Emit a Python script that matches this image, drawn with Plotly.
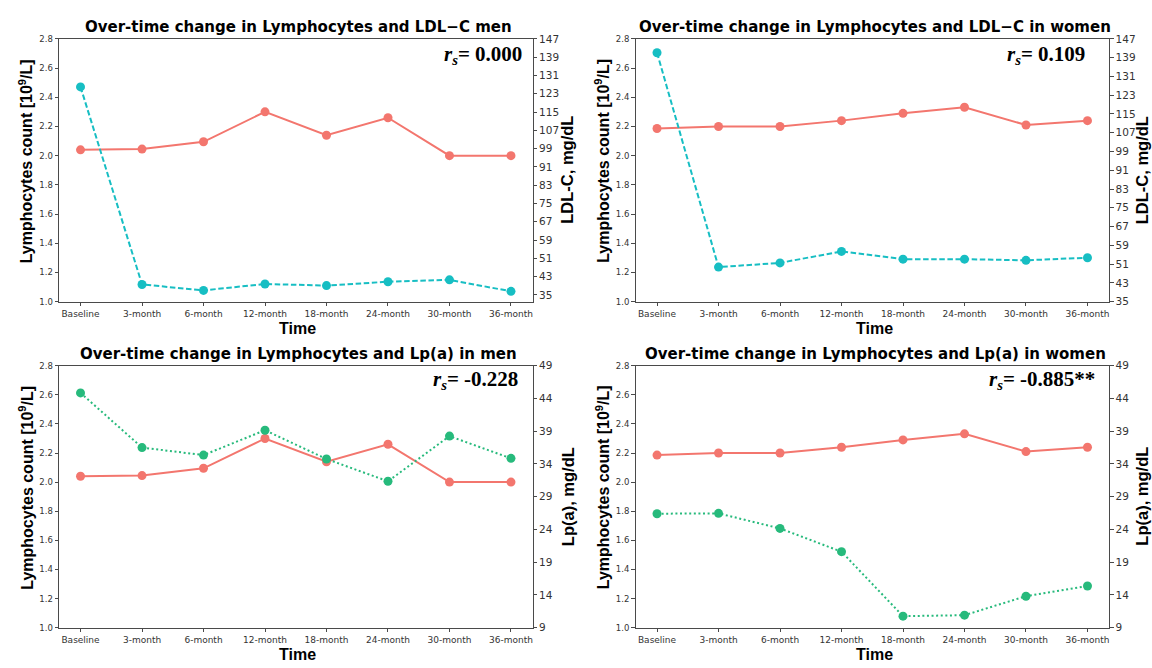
import plotly.graph_objects as go

# ---------------- data ----------------
cats = ["Baseline", "3-month", "6-month", "12-month", "18-month", "24-month", "30-month", "36-month"]

lymph_men = [2.04, 2.045, 2.095, 2.30, 2.14, 2.26, 2.00, 2.00]
lymph_women = [2.186, 2.20, 2.20, 2.24, 2.29, 2.332, 2.21, 2.24]

ldl_men = [126.0, 39.6, 37.0, 39.8, 39.1, 40.8, 41.6, 36.6]
ldl_women = [141.1, 49.7, 51.5, 56.4, 53.1, 53.1, 52.6, 53.7]

lpa_men = [44.85, 36.5, 35.35, 39.15, 34.75, 31.35, 38.25, 34.85]
lpa_women = [26.4, 26.45, 24.15, 20.6, 10.75, 10.9, 13.8, 15.35]

lymph_ticks = [1.0, 1.2, 1.4, 1.6, 1.8, 2.0, 2.2, 2.4, 2.6, 2.8]
ldl_ticks = [35, 43, 51, 59, 67, 75, 83, 91, 99, 107, 115, 123, 131, 139, 147]
lpa_ticks = [9, 14, 19, 24, 29, 34, 39, 44, 49]

titles = [
    "Over-time change in Lymphocytes and LDL\u2212C men",
    "Over-time change in Lymphocytes and LDL\u2212C in women",
    "Over-time change in Lymphocytes and Lp(a) in men",
    "Over-time change in Lymphocytes and Lp(a) in women",
]
rs_values = ["0.000", "0.109", "-0.228", "-0.885**"]
right_titles = ["LDL-C, mg/dL", "LDL-C, mg/dL", "Lp(a), mg/dL", "Lp(a), mg/dL"]

# ---------------- styling ----------------
W, H = 1152, 668
RED = "#F3766E"
TEAL = "#17BEC3"
GREEN = "#27BA7C"
AXC = "#4a4a4a"
TXT = "#333333"


def px(x):
    return x / W


def py(y):
    return 1 - y / H


# panel pixel boxes: (left, right, top, bottom)
boxes = [
    (59.0, 532.5, 33.5, 301.0),
    (635.5, 1109.0, 33.5, 301.0),
    (59.0, 532.5, 366.3, 633.0),
    (635.5, 1109.0, 366.3, 633.0),
]

panels = [
    dict(lymph=lymph_men, other=ldl_men, color=TEAL, dash="5.5px,2.6px",
         rrange=[32.1, 147], rticks=ldl_ticks),
    dict(lymph=lymph_women, other=ldl_women, color=TEAL, dash="5.5px,2.6px",
         rrange=[35, 147], rticks=ldl_ticks),
    dict(lymph=lymph_men, other=lpa_men, color=GREEN, dash="2px,2.6px",
         rrange=[9, 49], rticks=lpa_ticks),
    dict(lymph=lymph_women, other=lpa_women, color=GREEN, dash="2px,2.6px",
         rrange=[9, 49], rticks=lpa_ticks),
]
rs_pos = [(524, 50), (1087, 50), (520, 381), (1097, 381)]
right_title_offset = [35, 33, 35, 33]

fig = go.Figure()
layout = dict(
    width=W, height=H, margin=dict(l=0, r=0, t=0, b=0),
    paper_bgcolor="white", plot_bgcolor="white", showlegend=False,
)
annotations = []

for i, (p, box) in enumerate(zip(panels, boxes)):
    n = i + 1
    xa = "x" if n == 1 else f"x{n}"
    yl = "y" if n == 1 else f"y{2 * n - 1}"
    yr = f"y{2 * n}"
    xkey = "xaxis" if n == 1 else f"xaxis{n}"
    ylkey = "yaxis" if n == 1 else f"yaxis{2 * n - 1}"
    yrkey = f"yaxis{2 * n}"
    l, r, t, b = box
    xdom = [px(l), px(r)]
    ydom = [py(b), py(t)]

    fig.add_trace(go.Scatter(
        x=cats, y=p["lymph"], xaxis=xa, yaxis=yl, mode="lines+markers",
        line=dict(color=RED, width=2), marker=dict(color=RED, size=9),
        hoverinfo="skip"))
    fig.add_trace(go.Scatter(
        x=cats, y=p["other"], xaxis=xa, yaxis=yr, mode="lines+markers",
        line=dict(color=p["color"], width=2, dash=p["dash"]),
        marker=dict(color=p["color"], size=9), hoverinfo="skip"))

    layout[xkey] = dict(
        domain=xdom, anchor=yl, type="category", categoryorder="array",
        categoryarray=cats, range=[-0.35, 7.35], showline=True, mirror=True,
        linecolor=AXC, linewidth=1, ticks="outside", ticklen=3.5, tickcolor=AXC,
        tickfont=dict(family="DejaVu Sans", size=9, color=TXT), showgrid=False,
        zeroline=False, tickangle=0)
    layout[ylkey] = dict(
        domain=ydom, anchor=xa, range=[1.0, 2.8], tickvals=lymph_ticks,
        ticktext=[f"{v:.1f}" for v in lymph_ticks], showline=True,
        linecolor=AXC, linewidth=1, ticks="outside", ticklen=3.5, tickcolor=AXC,
        tickfont=dict(family="DejaVu Sans", size=8.5, color=TXT), showgrid=False,
        zeroline=False)
    layout[yrkey] = dict(
        domain=ydom, anchor=xa, overlaying=yl, side="right", range=p["rrange"],
        tickvals=p["rticks"], ticktext=[str(v) for v in p["rticks"]],
        showline=True, linecolor=AXC, linewidth=1, ticks="outside", ticklen=3.5,
        tickcolor=AXC, tickfont=dict(family="DejaVu Sans", size=10.5, color=TXT),
        showgrid=False, zeroline=False)

    cx = (l + r) / 2
    # panel title
    annotations.append(dict(
        text=f"<b>{titles[i]}</b>", x=px(cx + 3), y=py(t - 12), xref="paper",
        yref="paper", xanchor="center", yanchor="middle", showarrow=False,
        font=dict(family="DejaVu Sans", size=15, color="black")))
    # x title
    annotations.append(dict(
        text="<b>Time</b>", x=px(cx + 2), y=py(b + 27), xref="paper",
        yref="paper", xanchor="center", yanchor="middle", showarrow=False,
        font=dict(family="Liberation Sans", size=16, color="black")))
    # left y title
    annotations.append(dict(
        text="<b>Lymphocytes count [10<sup>9</sup>/L]</b>", x=px(l - 33),
        y=py(t + 0.466 * (b - t)), xref="paper", yref="paper",
        xanchor="center", yanchor="middle", textangle=-90, showarrow=False,
        font=dict(family="Liberation Sans", size=16, color="black")))
    # right y title
    annotations.append(dict(
        text=f"<b>{right_titles[i]}</b>", x=px(r + right_title_offset[i]),
        y=py((t + b) / 2), xref="paper", yref="paper",
        xanchor="center", yanchor="middle", textangle=-90, showarrow=False,
        font=dict(family="Liberation Sans", size=16.5, color="black")))
    # spearman r
    rx, ry = rs_pos[i]
    annotations.append(dict(
        text=f"<b><i>r</i><sub><i>s</i></sub>= {rs_values[i]}</b>",
        x=px(rx), y=py(ry), xref="paper", yref="paper", xanchor="right",
        yanchor="middle", showarrow=False,
        font=dict(family="Liberation Serif", size=21, color="black")))

layout["annotations"] = annotations
fig.update_layout(**layout)
fig.write_html("out.html")
